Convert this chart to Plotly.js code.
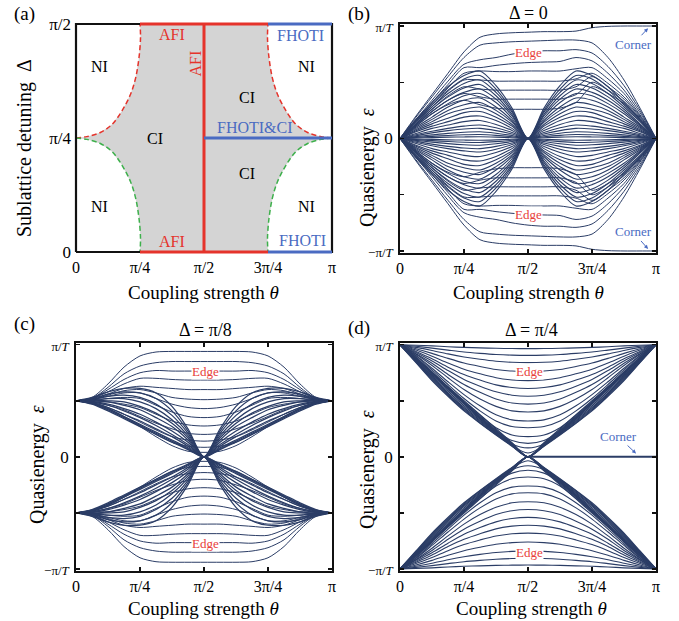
<!DOCTYPE html>
<html><head><meta charset="utf-8">
<script src="https://cdn.plot.ly/plotly-3.0.1.min.js"></script>
<style>body{margin:0;background:#fff}#chart{width:679px;height:621px}</style>
</head><body><div id="chart"></div>
<script>
// ---------- shared grid (coupling strength theta, in units of pi) ----------
const thetaGrid = [0,0.0625,0.125,0.1875,0.25,0.3125,0.375,0.4375,0.5,0.5625,0.625,0.6875,0.75,0.8125,0.875,0.9375,1];
const thetaTickVals = [0,0.25,0.5,0.75,1];
const thetaTickText = ['0','π/4','π/2','3π/4','π'];
const deltaTickVals = [0,0.25,0.5];
const deltaTickText = ['0','π/4','π/2'];
const epsTickVals = [-1,-0.5,0,0.5,1];
const epsTickText = ['<span style="font-size:13px">−π/<i>T</i></span>','','0','','<span style="font-size:13px">π/<i>T</i></span>'];

// ---------- panel (a): phase diagram (units of pi) ----------
const redLeftTheta  = [0,0.042,0.095,0.141,0.18,0.213,0.233,0.246,0.252,0.25];
const redLeftDelta  = [0.25,0.253,0.262,0.28,0.31,0.346,0.382,0.426,0.47,0.5];
const greenLeftTheta = [0,0.042,0.095,0.141,0.18,0.213,0.233,0.246,0.252,0.25];
const greenLeftDelta = [0.25,0.247,0.238,0.22,0.19,0.154,0.118,0.074,0.03,0];
const redRightTheta  = [1,0.958,0.905,0.859,0.82,0.787,0.767,0.754,0.748,0.75];
const redRightDelta  = [0.25,0.253,0.262,0.28,0.31,0.346,0.382,0.426,0.47,0.5];
const greenRightTheta = [1,0.958,0.905,0.859,0.82,0.787,0.767,0.754,0.748,0.75];
const greenRightDelta = [0.25,0.247,0.238,0.22,0.19,0.154,0.118,0.074,0.03,0];
const frameTheta = [0,1,1,0,0];
const frameDelta = [0,0,0.5,0.5,0];
const afiLines = [ {t:[0.25,0.75], d:[0.5,0.5]}, {t:[0.25,0.75], d:[0,0]}, {t:[0.5,0.5], d:[0,0.5]} ];
const fhotiLines = [ {t:[0.75,1], d:[0.5,0.5]}, {t:[0.75,1], d:[0,0]}, {t:[0.5,1], d:[0.25,0.25]} ];
const phaseText  = ['NI','NI','NI','NI','CI','CI','CI','AFI','AFI','AFI','FHOTI','FHOTI','FHOTI&amp;CI'];
const phaseTheta = [0.091,0.091,0.902,0.902,0.309,0.668,0.668,0.374,0.374,0.466,0.878,0.883,0.70];
const phaseDelta = [0.406,0.099,0.406,0.099,0.249,0.339,0.172,0.477,0.024,0.414,0.474,0.026,0.273];
const phaseKind  = ['k','k','k','k','k','k','k','r','r','r','b','b','b'];
const phaseAngle = [0,0,0,0,0,0,0,0,0,-90,0,0,0];

// ---------- panel (b): Delta = 0, upper half (lower half is its mirror) ----------
const bEdge = [
 [0,0.20,0.39,0.58,0.77,0.90,0.93,0.94,0.945,0.95,0.95,0.955,0.985,0.997,1,1,1],
 [0,0.19,0.37,0.55,0.72,0.83,0.85,0.86,0.865,0.87,0.875,0.875,0.85,0.72,0.52,0.27,0],
 [0,0.17,0.34,0.51,0.66,0.70,0.72,0.75,0.77,0.78,0.78,0.79,0.76,0.64,0.47,0.25,0],
 [0,0.16,0.32,0.48,0.63,0.63,0.65,0.665,0.675,0.68,0.685,0.72,0.69,0.58,0.43,0.23,0],
 [0,0.15,0.30,0.45,0.58,0.60,0.595,0.595,0.60,0.60,0.60,0.62,0.63,0.53,0.40,0.21,0],
 [0,0.14,0.28,0.42,0.52,0.52,0.51,0.51,0.51,0.51,0.51,0.53,0.58,0.49,0.37,0.20,0],
 [0,0.13,0.26,0.38,0.46,0.44,0.43,0.43,0.43,0.43,0.43,0.46,0.55,0.46,0.35,0.19,0],
 [0,0.12,0.24,0.34,0.40,0.37,0.35,0.35,0.35,0.35,0.35,0.39,0.50,0.43,0.33,0.18,0],
 [0,0.11,0.22,0.30,0.34,0.30,0.27,0.26,0.26,0.26,0.27,0.32,0.46,0.40,0.31,0.17,0]
];
const bBulk = [
 [0,0.17,0.32,0.46,0.56,0.60,0.47,0.27,0,0.27,0.47,0.60,0.56,0.46,0.32,0.17,0],
 [0,0.16,0.30,0.43,0.53,0.56,0.44,0.25,0,0.25,0.44,0.56,0.53,0.43,0.30,0.16,0],
 [0,0.15,0.28,0.40,0.49,0.52,0.41,0.235,0,0.235,0.41,0.52,0.49,0.40,0.28,0.15,0],
 [0,0.13,0.26,0.37,0.45,0.48,0.38,0.215,0,0.215,0.38,0.48,0.45,0.37,0.26,0.13,0],
 [0,0.12,0.24,0.34,0.41,0.44,0.35,0.20,0,0.20,0.35,0.44,0.41,0.34,0.24,0.12,0],
 [0,0.11,0.22,0.31,0.38,0.40,0.32,0.18,0,0.18,0.32,0.40,0.38,0.31,0.22,0.11,0],
 [0,0.10,0.19,0.28,0.34,0.36,0.28,0.16,0,0.16,0.28,0.36,0.34,0.28,0.19,0.10,0],
 [0,0.09,0.17,0.25,0.30,0.32,0.25,0.145,0,0.145,0.25,0.32,0.30,0.25,0.17,0.09,0],
 [0,0.08,0.15,0.22,0.26,0.28,0.22,0.125,0,0.125,0.22,0.28,0.26,0.22,0.15,0.08,0],
 [0,0.07,0.13,0.18,0.23,0.24,0.19,0.11,0,0.11,0.19,0.24,0.23,0.18,0.13,0.07,0],
 [0,0.06,0.11,0.15,0.19,0.20,0.16,0.09,0,0.09,0.16,0.20,0.19,0.15,0.11,0.06,0],
 [0,0.045,0.09,0.12,0.15,0.16,0.125,0.072,0,0.072,0.125,0.16,0.15,0.12,0.09,0.045,0],
 [0,0.034,0.065,0.09,0.11,0.12,0.095,0.054,0,0.054,0.095,0.12,0.11,0.09,0.065,0.034,0],
 [0,0.025,0.05,0.07,0.085,0.09,0.07,0.04,0,0.04,0.07,0.09,0.085,0.07,0.05,0.025,0],
 [0,0.017,0.032,0.046,0.056,0.06,0.047,0.027,0,0.027,0.047,0.06,0.056,0.046,0.032,0.017,0],
 [0,0.01,0.019,0.027,0.033,0.035,0.028,0.016,0,0.016,0.028,0.035,0.033,0.027,0.019,0.01,0],
 [0,0.004,0.008,0.012,0.014,0.015,0.012,0.007,0,0.007,0.012,0.015,0.014,0.012,0.008,0.004,0]
];

// ---------- panel (c): Delta = pi/8, upper half ----------
const cEdge = [
 [0.5,0.53,0.65,0.80,0.90,0.935,0.94,0.94,0.94,0.94,0.94,0.935,0.90,0.80,0.65,0.53,0.5],
 [0.5,0.52,0.62,0.74,0.81,0.84,0.85,0.85,0.85,0.85,0.85,0.84,0.81,0.74,0.62,0.52,0.5],
 [0.5,0.52,0.60,0.69,0.75,0.77,0.765,0.765,0.765,0.765,0.765,0.77,0.75,0.69,0.60,0.52,0.5],
 [0.5,0.52,0.58,0.65,0.70,0.70,0.69,0.685,0.685,0.685,0.69,0.70,0.70,0.65,0.58,0.52,0.5],
 [0.5,0.51,0.56,0.61,0.63,0.62,0.61,0.60,0.60,0.60,0.61,0.62,0.63,0.61,0.56,0.51,0.5],
 [0.5,0.51,0.55,0.59,0.60,0.57,0.53,0.515,0.51,0.515,0.53,0.57,0.60,0.59,0.55,0.51,0.5],
 [0.5,0.51,0.54,0.57,0.57,0.52,0.47,0.44,0.43,0.44,0.47,0.52,0.57,0.57,0.54,0.51,0.5],
 [0.5,0.50,0.52,0.53,0.52,0.46,0.40,0.36,0.35,0.36,0.40,0.46,0.52,0.53,0.52,0.50,0.5],
 [0.5,0.49,0.49,0.47,0.44,0.38,0.32,0.285,0.275,0.285,0.32,0.38,0.44,0.47,0.49,0.49,0.5],
 [0.5,0.49,0.46,0.42,0.36,0.30,0.25,0.21,0.20,0.21,0.25,0.30,0.36,0.42,0.46,0.49,0.5],
 [0.5,0.48,0.44,0.38,0.31,0.24,0.18,0.15,0.14,0.15,0.18,0.24,0.31,0.38,0.44,0.48,0.5],
 [0.5,0.48,0.43,0.36,0.28,0.20,0.13,0.095,0.085,0.095,0.13,0.20,0.28,0.36,0.43,0.48,0.5],
 [0.5,0.475,0.42,0.35,0.27,0.18,0.10,0.05,0.04,0.05,0.10,0.18,0.27,0.35,0.42,0.475,0.5]
];
const cBulk = [
 [0.5,0.53,0.58,0.61,0.61,0.57,0.45,0.25,0,0.25,0.45,0.57,0.61,0.61,0.58,0.53,0.5],
 [0.5,0.52,0.56,0.58,0.57,0.52,0.41,0.23,0,0.23,0.41,0.52,0.57,0.58,0.56,0.52,0.5],
 [0.5,0.515,0.54,0.55,0.53,0.47,0.37,0.21,0,0.21,0.37,0.47,0.53,0.55,0.54,0.515,0.5],
 [0.5,0.51,0.52,0.52,0.49,0.43,0.33,0.19,0,0.19,0.33,0.43,0.49,0.52,0.52,0.51,0.5],
 [0.5,0.505,0.5,0.49,0.45,0.39,0.3,0.17,0,0.17,0.3,0.39,0.45,0.49,0.5,0.505,0.5],
 [0.5,0.5,0.49,0.46,0.42,0.35,0.27,0.15,0,0.15,0.27,0.35,0.42,0.46,0.49,0.5,0.5],
 [0.5,0.495,0.47,0.43,0.38,0.31,0.23,0.13,0,0.13,0.23,0.31,0.38,0.43,0.47,0.495,0.5],
 [0.5,0.49,0.46,0.41,0.35,0.28,0.2,0.11,0,0.11,0.2,0.28,0.35,0.41,0.46,0.49,0.5],
 [0.5,0.485,0.44,0.38,0.32,0.25,0.18,0.095,0,0.095,0.18,0.25,0.32,0.38,0.44,0.485,0.5],
 [0.5,0.48,0.43,0.36,0.29,0.22,0.15,0.08,0,0.08,0.15,0.22,0.29,0.36,0.43,0.48,0.5],
 [0.5,0.475,0.42,0.35,0.28,0.21,0.14,0.07,0,0.07,0.14,0.21,0.28,0.35,0.42,0.475,0.5],
 [0.5,0.47,0.41,0.34,0.27,0.2,0.13,0.065,0,0.065,0.13,0.2,0.27,0.34,0.41,0.47,0.5]
];

// ---------- panel (d): Delta = pi/4, upper half ----------
const dEdge = [
 [1,0.995,0.99,0.982,0.976,0.972,0.968,0.966,0.965,0.966,0.968,0.972,0.976,0.982,0.99,0.995,1],
 [1,0.986,0.97,0.952,0.935,0.923,0.913,0.907,0.905,0.907,0.913,0.923,0.935,0.952,0.97,0.986,1],
 [1,0.976,0.949,0.918,0.891,0.87,0.853,0.843,0.84,0.843,0.853,0.87,0.891,0.918,0.949,0.976,1],
 [1,0.964,0.923,0.878,0.837,0.806,0.779,0.765,0.76,0.765,0.779,0.806,0.837,0.878,0.923,0.964,1],
 [1,0.952,0.898,0.837,0.782,0.741,0.706,0.686,0.68,0.686,0.706,0.741,0.782,0.837,0.898,0.952,1],
 [1,0.94,0.875,0.8,0.735,0.685,0.642,0.618,0.61,0.618,0.642,0.685,0.735,0.8,0.875,0.94,1],
 [1,0.93,0.855,0.77,0.69,0.63,0.58,0.55,0.54,0.55,0.58,0.63,0.69,0.77,0.855,0.93,1],
 [1,0.92,0.835,0.735,0.645,0.575,0.515,0.48,0.47,0.48,0.515,0.575,0.645,0.735,0.835,0.92,1],
 [1,0.915,0.815,0.705,0.6,0.515,0.45,0.41,0.4,0.41,0.45,0.515,0.6,0.705,0.815,0.915,1],
 [1,0.905,0.79,0.67,0.555,0.455,0.375,0.33,0.32,0.33,0.375,0.455,0.555,0.67,0.79,0.905,1],
 [1,0.9,0.775,0.645,0.52,0.41,0.32,0.27,0.26,0.27,0.32,0.41,0.52,0.645,0.775,0.9,1],
 [1,0.89,0.76,0.625,0.49,0.37,0.26,0.195,0.18,0.195,0.26,0.37,0.49,0.625,0.76,0.89,1],
 [1,0.885,0.755,0.615,0.48,0.35,0.23,0.145,0.12,0.145,0.23,0.35,0.48,0.615,0.755,0.885,1],
 [1,0.88,0.75,0.61,0.475,0.34,0.215,0.115,0.08,0.115,0.215,0.34,0.475,0.61,0.75,0.88,1],
 [1,0.878,0.75,0.615,0.48,0.35,0.22,0.1,0.035,0.1,0.22,0.35,0.48,0.615,0.75,0.878,1]
];
const dBulk = [
 [1,0.875,0.75,0.625,0.5,0.375,0.25,0.125,0,0.125,0.25,0.375,0.5,0.625,0.75,0.875,1],
 [1,0.87,0.74,0.61,0.485,0.36,0.24,0.12,0,0.12,0.24,0.36,0.485,0.61,0.74,0.87,1],
 [1,0.865,0.73,0.6,0.47,0.35,0.23,0.115,0,0.115,0.23,0.35,0.47,0.6,0.73,0.865,1],
 [1,0.86,0.72,0.585,0.455,0.335,0.22,0.11,0,0.11,0.22,0.335,0.455,0.585,0.72,0.86,1],
 [1,0.855,0.71,0.57,0.44,0.325,0.21,0.105,0,0.105,0.21,0.325,0.44,0.57,0.71,0.855,1],
 [1,0.85,0.7,0.56,0.43,0.315,0.205,0.1,0,0.1,0.205,0.315,0.43,0.56,0.7,0.85,1],
 [1,0.845,0.69,0.55,0.42,0.305,0.2,0.1,0,0.1,0.2,0.305,0.42,0.55,0.69,0.845,1],
 [1,0.84,0.68,0.54,0.41,0.3,0.195,0.095,0,0.095,0.195,0.3,0.41,0.54,0.68,0.84,1]
];
const cornerTheta = [0.5,1];
const cornerEps = [0,0];

// ---------- styling ----------
const bandColor = '#2b3d66';
const redC = '#e5332b', blueC = '#4a6bc2', greenC = '#3db04b', greyC = '#d4d4d4';
const serif = 'Liberation Serif, Times New Roman, serif';

const traces = [];
// panel (a)
traces.push({x: redLeftTheta.slice().reverse().concat(greenLeftTheta, greenRightTheta.slice().reverse(), redRightTheta),
  y: redLeftDelta.slice().reverse().concat(greenLeftDelta, greenRightDelta.slice().reverse(), redRightDelta),
  xaxis:'x', yaxis:'y', mode:'lines', fill:'toself', fillcolor:greyC, line:{width:0, color:greyC}, hoverinfo:'skip'});
[[redLeftTheta,redLeftDelta,redC],[redRightTheta,redRightDelta,redC],[greenLeftTheta,greenLeftDelta,greenC],[greenRightTheta,greenRightDelta,greenC]].forEach(c=>{
  traces.push({x:c[0], y:c[1], xaxis:'x', yaxis:'y', mode:'lines', line:{color:c[2], width:1.5, dash:'5px,3px', shape:'spline'}, hoverinfo:'skip'});
});
traces.push({x:frameTheta, y:frameDelta, xaxis:'x', yaxis:'y', mode:'lines', line:{color:'#111', width:2.2}, hoverinfo:'skip'});
afiLines.forEach(l=>traces.push({x:l.t, y:l.d, xaxis:'x', yaxis:'y', mode:'lines', line:{color:redC, width:3}, hoverinfo:'skip'}));
fhotiLines.forEach(l=>traces.push({x:l.t, y:l.d, xaxis:'x', yaxis:'y', mode:'lines', line:{color:blueC, width:3}, hoverinfo:'skip'}));

function addBands(list, xa, ya, w){
  list.forEach(arr=>{
    traces.push({x:thetaGrid, y:arr, xaxis:xa, yaxis:ya, mode:'lines', line:{color:bandColor, width:w, shape:'spline', smoothing:0.8}, hoverinfo:'skip'});
    traces.push({x:thetaGrid, y:arr.map(v=>-v), xaxis:xa, yaxis:ya, mode:'lines', line:{color:bandColor, width:w, shape:'spline', smoothing:0.8}, hoverinfo:'skip'});
  });
}
addBands(bBulk,'x2','y2',1.1); addBands(bEdge,'x2','y2',1);
addBands(cBulk,'x3','y3',1.25); addBands(cEdge,'x3','y3',1);
addBands(dBulk,'x4','y4',1.25); addBands(dEdge,'x4','y4',1.1);
traces.push({x:cornerTheta, y:cornerEps, xaxis:'x4', yaxis:'y4', mode:'lines', line:{color:bandColor, width:2}, hoverinfo:'skip'});

const W = 679, H = 621;
const px = v => v/W, py = v => 1 - v/H;

function bandX(dom, anchor){
  return {domain:dom, anchor:anchor, range:[0,1], tickvals:thetaTickVals, ticktext:thetaTickText,
    showline:true, mirror:'allticks', linewidth:1.8, linecolor:'#111', ticks:'inside', ticklen:4, tickwidth:1.5, tickcolor:'#111',
    showgrid:false, zeroline:false, tickfont:{size:16, family:serif, color:'#000'}};
}
function bandY(dom, anchor){
  return {domain:dom, anchor:anchor, range:[-1.018,1.018], tickvals:epsTickVals, ticktext:epsTickText,
    showline:true, mirror:'allticks', linewidth:1.8, linecolor:'#111', ticks:'inside', ticklen:4, tickwidth:1.5, tickcolor:'#111',
    showgrid:false, zeroline:false, tickfont:{size:17, family:serif, color:'#000'}, ticklabelstandoff:2};
}

const annotations = [];
function paperText(text, x, y, size, angle, color){
  annotations.push({xref:'paper', yref:'paper', x:px(x), y:py(y), text:text, showarrow:false,
    xanchor:'center', yanchor:'middle', textangle:angle||0, font:{family:serif, size:size, color:color||'#000'}});
}
paperText('(a)', 24, 14, 19); paperText('(b)', 359, 14, 19); paperText('(c)', 24, 324, 19); paperText('(d)', 359, 328, 19);
paperText('Δ = 0', 528, 13, 18); paperText('Δ = π/8', 205, 330, 18); paperText('Δ = π/4', 531, 330, 18);
paperText('Coupling strength <i>θ</i>', 203, 292, 19); paperText('Coupling strength <i>θ</i>', 528, 292, 19);
paperText('Coupling strength <i>θ</i>', 203, 608, 19); paperText('Coupling strength <i>θ</i>', 531, 608, 19);
paperText('Sublattice detuning  Δ', 25, 148, 20, -90);
paperText('Quasienergy  <i>ε</i>', 367, 168, 20, -90);
paperText('Quasienergy  <i>ε</i>', 37, 465, 20, -90);
paperText('Quasienergy  <i>ε</i>', 367, 470, 20, -90);

phaseText.forEach((t,i)=>{
  const col = phaseKind[i]==='r' ? redC : (phaseKind[i]==='b' ? blueC : '#000');
  annotations.push({xref:'x', yref:'y', x:phaseTheta[i], y:phaseDelta[i], text:t, showarrow:false, textangle:phaseAngle[i],
    font:{family:serif, size:16, color:col}});
});

const edgeLabels = [['x2','y2',0.5,0.766],['x2','y2',0.5,-0.674],['x3','y3',0.507,0.76],['x3','y3',0.507,-0.777],['x4','y4',0.504,0.76],['x4','y4',0.504,-0.855]];
edgeLabels.forEach(e=>annotations.push({xref:e[0], yref:e[1], x:e[2], y:e[3], text:'Edge', showarrow:false, bgcolor:'#fff', borderpad:0,
  font:{family:serif, size:13, color:'#e8403a'}}));
const cornerLabels = [['x2','y2',0.969,0.98,-15,16],['x2','y2',0.969,-0.982,-15,-17],['x4','y4',0.922,0.03,-18,-17]];
cornerLabels.forEach(c=>annotations.push({xref:c[0], yref:c[1], x:c[2], y:c[3], text:'Corner', showarrow:true, ax:c[4], ay:c[5],
  arrowhead:2, arrowsize:0.8, arrowwidth:1, arrowcolor:blueC, standoff:0, font:{family:serif, size:13, color:blueC}}));

const layout = {
  width:W, height:H, margin:{l:0,r:0,t:0,b:0}, paper_bgcolor:'#fff', plot_bgcolor:'rgba(0,0,0,0)', showlegend:false,
  font:{family:serif, color:'#000'},
  xaxis:{domain:[px(72),px(336)], anchor:'y', range:[-0.015625,1.015625], tickvals:thetaTickVals, ticktext:thetaTickText,
    showline:false, showgrid:false, zeroline:false, ticks:'', tickfont:{size:16, family:serif, color:'#000'}},
  yaxis:{domain:[py(256),py(20)], anchor:'x', range:[-0.00877,0.50877], tickvals:deltaTickVals, ticktext:deltaTickText,
    showline:false, showgrid:false, zeroline:false, ticks:'', tickfont:{size:17, family:serif, color:'#000'}},
  xaxis2: bandX([px(400),px(656)], 'y2'),
  yaxis2: bandY([py(253),py(24)], 'x2'),
  xaxis3: bandX([px(76),px(332)], 'y3'),
  yaxis3: bandY([py(571),py(342.7)], 'x3'),
  xaxis4: bandX([px(400),px(656)], 'y4'),
  yaxis4: bandY([py(571),py(342.7)], 'x4'),
  annotations: annotations
};
Plotly.newPlot('chart', traces, layout, {staticPlot:true, displayModeBar:false});
</script></body></html>
